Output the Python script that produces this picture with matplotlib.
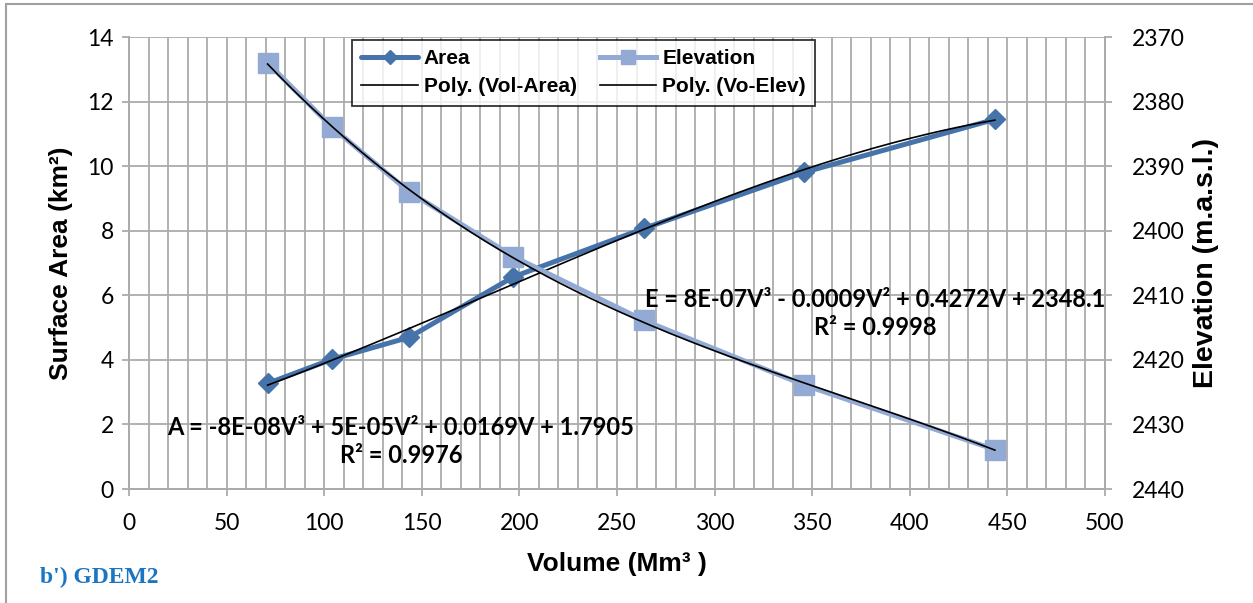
import numpy as np
import matplotlib.pyplot as plt
from matplotlib.patches import Rectangle
from matplotlib.ticker import MultipleLocator

# data
volume = [71.0, 104.1, 143.6, 196.9, 263.8, 346.0, 443.6]
area = [3.27, 4.02, 4.70, 6.57, 8.07, 9.81, 11.45]
elevation = [2374.0, 2384.0, 2394.0, 2404.0, 2413.9, 2423.9, 2433.9]

area_eq = "A = -8E-08V³ + 5E-05V² + 0.0169V + 1.7905\nR² = 0.9976"
elev_eq = "E = 8E-07V³ - 0.0009V² + 0.4272V + 2348.1\nR² = 0.9998"

c_area = '#4573AA'
c_elev = '#93AAD4'
grid_c = '#ABABAB'
tick_font = 'Lato'
bold_font = 'Liberation Sans'

fig = plt.figure(figsize=(12.53, 6.03), dpi=100)
ax = fig.add_axes([129 / 1253, 1 - 489 / 603, 976 / 1253, 452 / 603])
ax2 = ax.twinx()

# poly trendlines (order 3), fitted like excel does
vv = np.linspace(min(volume), max(volume), 200)
pa = np.polyfit(volume, area, 3)
pe = np.polyfit(volume, elevation, 3)

l1, = ax.plot(volume, area, color=c_area, lw=3.6, marker='D', ms=10,
              solid_capstyle='round', label='Area')
t1, = ax.plot(vv, np.polyval(pa, vv), color='black', lw=1.2,
              label='Poly. (Vol-Area)')
l2, = ax2.plot(volume, elevation, color=c_elev, lw=3.6, marker='s', ms=14,
               label='Elevation')
t2, = ax2.plot(vv, np.polyval(pe, vv), color='black', lw=1.2,
               label='Poly. (Vo-Elev)')

ax.set_xlim(0, 500)
ax.set_ylim(0, 14)
ax2.set_ylim(2440, 2370)
ax.xaxis.set_major_locator(MultipleLocator(50))
ax.xaxis.set_minor_locator(MultipleLocator(10))
ax.yaxis.set_major_locator(MultipleLocator(2))
ax2.yaxis.set_major_locator(MultipleLocator(10))

ax.grid(True, which='both', axis='x', color=grid_c, lw=1.3)
ax.grid(True, which='major', axis='y', color=grid_c, lw=1.3)
ax.set_axisbelow(True)

for a in (ax, ax2):
    for s in a.spines.values():
        s.set_color(grid_c)
        s.set_linewidth(1.3)
    a.spines['top'].set_visible(False)
    a.tick_params(which='major', length=5, width=1.3, color=grid_c,
                  labelsize=16.5, pad=6)
    a.tick_params(which='minor', length=0)
    for lab in a.get_xticklabels() + a.get_yticklabels():
        lab.set_family(tick_font)
ax.tick_params(axis='x', pad=12)
ax2.tick_params(axis='y', pad=14)

ax.set_xlabel('Volume (Mm³ )', fontsize=19, fontweight='bold',
              family=bold_font, labelpad=13)
ax.set_ylabel('Surface Area (km²)', fontsize=19, fontweight='bold',
              family=bold_font, labelpad=10)
ax2.set_ylabel('Elevation (m.a.s.l.)', fontsize=20.5, fontweight='bold',
               family=bold_font, labelpad=6)

ax2.text(139.3, 2432.6, area_eq, ha='center', va='center', fontsize=17,
         fontweight='bold', family=tick_font, linespacing=1.25)
ax2.text(382.2, 2412.8, elev_eq, ha='center', va='center', fontsize=17,
         fontweight='bold', family=tick_font, linespacing=1.25)

leg = ax2.legend([l1, t1, l2, t2],
                 ['Area', 'Poly. (Vol-Area)', 'Elevation', 'Poly. (Vo-Elev)'],
                 ncol=2, loc='upper left', bbox_to_anchor=(0.2285, 0.994),
                 borderaxespad=0,
                 prop={'family': bold_font, 'weight': 'bold', 'size': 15},
                 frameon=True, fancybox=False, edgecolor='black',
                 handlelength=2.7, handletextpad=0.3, columnspacing=1.1,
                 borderpad=0.45, labelspacing=0.45, markerscale=0.75)
leg.get_frame().set_linewidth(1.3)
leg.set_zorder(10)

fig.text(40 / 1253, 1 - 577 / 603, "b') GDEM2", color='#1A75C2',
         fontsize=17, fontweight='bold', family='Liberation Serif',
         va='center', ha='left')

fig.patches.append(Rectangle((6 / 1253, -0.01), 1.2, 1 - 4 / 603 + 0.01,
                             transform=fig.transFigure, fill=False,
                             edgecolor='#A0A0A0', lw=1.5))

fig.savefig('out.png', dpi=100)
